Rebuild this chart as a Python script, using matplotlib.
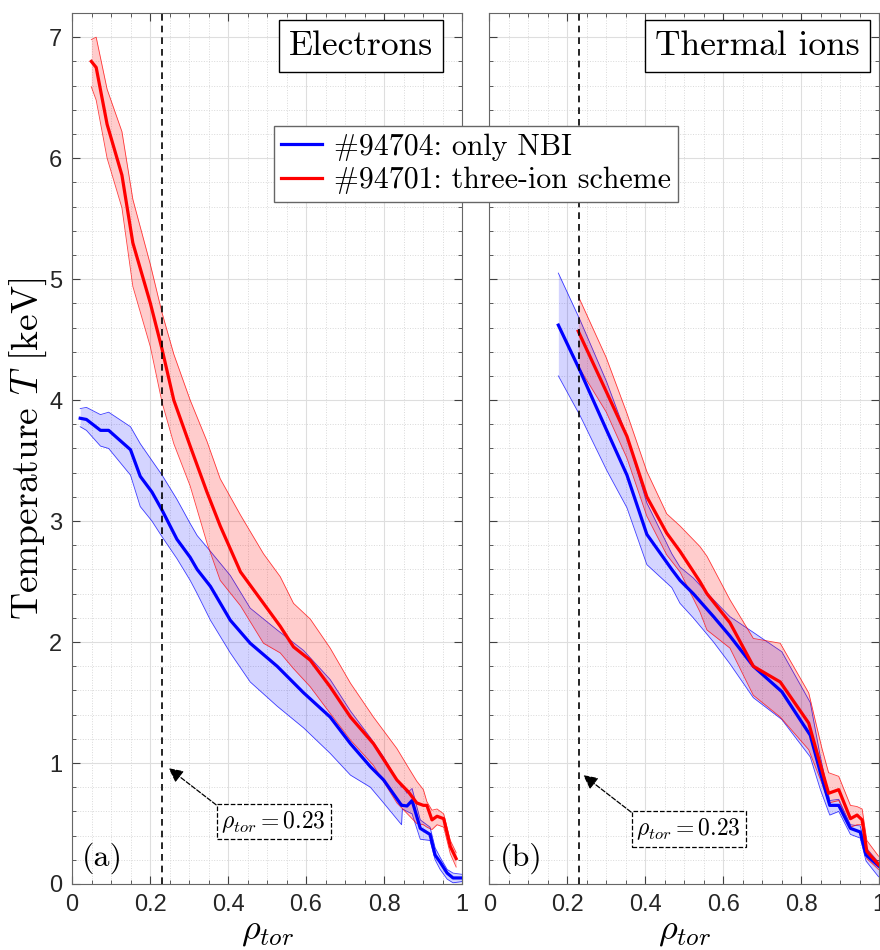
import numpy as np
import matplotlib.pyplot as plt
from matplotlib.ticker import MultipleLocator

plt.rcParams['mathtext.fontset'] = 'cm'
CM = ['cmr10', 'DejaVu Serif']

# electrons, #94704 (only NBI)
te_nbi_x = [0.021, 0.037, 0.073, 0.094, 0.150, 0.175, 0.205, 0.231, 0.269, 0.303, 0.321, 0.355, 0.406,
            0.457, 0.526, 0.594, 0.662, 0.714, 0.765, 0.799, 0.845, 0.847, 0.859, 0.872, 0.893, 0.918,
            0.931, 0.944, 0.962, 0.977, 1.0]
te_nbi = [3.85, 3.84, 3.75, 3.75, 3.59, 3.37, 3.24, 3.09, 2.85, 2.70, 2.60, 2.46, 2.18,
          1.99, 1.80, 1.58, 1.38, 1.16, 0.97, 0.86, 0.65, 0.65, 0.645, 0.69, 0.46, 0.41,
          0.24, 0.18, 0.09, 0.05, 0.05]
te_nbi_hi = [3.93, 3.94, 3.88, 3.90, 3.78, 3.64, 3.50, 3.38, 3.18, 2.98, 2.88, 2.75, 2.55,
             2.28, 2.10, 1.93, 1.69, 1.43, 1.21, 1.05, 0.80, 0.82, 0.75, 0.79, 0.53, 0.47,
             0.30, 0.22, 0.12, 0.09, 0.08]
te_nbi_lo = [3.78, 3.75, 3.62, 3.60, 3.38, 3.12, 3.00, 2.87, 2.69, 2.51, 2.40, 2.18, 1.91,
             1.67, 1.47, 1.29, 1.08, 0.90, 0.80, 0.67, 0.49, 0.62, 0.60, 0.58, 0.37, 0.36,
             0.20, 0.12, 0.04, 0.01, 0.02]

# electrons, #94701 (three-ion scheme)
te_3ion_x = [0.0495, 0.062, 0.09, 0.128, 0.156, 0.201, 0.231, 0.261, 0.303, 0.346, 0.38, 0.432, 0.491,
             0.534, 0.568, 0.611, 0.662, 0.714, 0.773, 0.833, 0.863, 0.884, 0.901, 0.910, 0.923,
             0.936, 0.953, 0.970, 0.985]
te_3ion = [6.80, 6.75, 6.28, 5.86, 5.30, 4.80, 4.42, 4.00, 3.62, 3.24, 2.96, 2.58, 2.32,
           2.13, 1.96, 1.85, 1.63, 1.38, 1.16, 0.86, 0.76, 0.67, 0.65, 0.65, 0.53,
           0.56, 0.54, 0.31, 0.21]
te_3ion_hi = [6.98, 7.00, 6.57, 6.22, 5.66, 5.12, 4.72, 4.38, 4.00, 3.66, 3.35, 3.05, 2.73,
              2.54, 2.32, 2.19, 1.95, 1.66, 1.38, 1.12, 0.96, 0.85, 0.78, 0.68, 0.61,
              0.62, 0.58, 0.36, 0.26]
te_3ion_lo = [6.59, 6.48, 6.00, 5.59, 4.94, 4.44, 3.98, 3.64, 3.29, 2.82, 2.51, 2.30, 1.99,
              1.91, 1.78, 1.63, 1.41, 1.19, 0.98, 0.67, 0.57, 0.50, 0.49, 0.47, 0.45,
              0.49, 0.47, 0.25, 0.14]

# thermal ions, #94704
ti_nbi_x = [0.177, 0.233, 0.301, 0.353, 0.404, 0.468, 0.489, 0.523, 0.575, 0.617, 0.677, 0.75,
            0.823, 0.849, 0.873, 0.896, 0.926, 0.951, 0.966, 0.998]
ti_nbi = [4.62, 4.24, 3.75, 3.38, 2.89, 2.60, 2.51, 2.40, 2.21, 2.05, 1.80, 1.59,
          1.23, 0.92, 0.65, 0.65, 0.46, 0.43, 0.24, 0.15]
ti_nbi_hi = [5.05, 4.66, 4.15, 3.70, 3.15, 2.73, 2.62, 2.53, 2.35, 2.21, 2.08, 1.92,
             1.50, 1.05, 0.69, 0.70, 0.49, 0.48, 0.30, 0.18]
ti_nbi_lo = [4.20, 3.87, 3.42, 3.11, 2.64, 2.45, 2.32, 2.20, 2.00, 1.82, 1.54, 1.36,
             1.05, 0.78, 0.57, 0.60, 0.41, 0.38, 0.19, 0.06]

# thermal ions, #94701
ti_3ion_x = [0.228, 0.30, 0.353, 0.404, 0.455, 0.489, 0.54, 0.558, 0.617, 0.677, 0.746, 0.819,
             0.853, 0.87, 0.896, 0.926, 0.943, 0.956, 0.968, 0.998]
ti_3ion = [4.57, 4.07, 3.70, 3.20, 2.90, 2.75, 2.50, 2.40, 2.16, 1.80, 1.67, 1.33,
           0.94, 0.75, 0.78, 0.54, 0.57, 0.53, 0.27, 0.16]
ti_3ion_hi = [4.86, 4.35, 3.89, 3.41, 3.06, 2.96, 2.79, 2.71, 2.35, 2.03, 1.99, 1.58,
              1.12, 0.92, 0.89, 0.65, 0.64, 0.62, 0.36, 0.23]
ti_3ion_lo = [4.28, 3.90, 3.52, 3.04, 2.72, 2.58, 2.25, 2.10, 1.95, 1.56, 1.38, 1.11,
              0.83, 0.67, 0.69, 0.47, 0.49, 0.49, 0.21, 0.12]

labels = ['#94704: only NBI', '#94701: three-ion scheme']
rho_mark = 0.23

fig = plt.figure(figsize=(8.8, 9.5), dpi=100)
ax1 = fig.add_axes([72 / 880, 66 / 950, 390 / 880, 871 / 950])
ax2 = fig.add_axes([489.3 / 880, 66 / 950, 390 / 880, 871 / 950])


def band(ax, x, m, lo, hi, c, a):
    ax.fill_between(x, lo, hi, color=c, alpha=a, lw=0, zorder=2)
    ax.plot(x, lo, color=c, lw=0.6, alpha=0.75, zorder=2)
    ax.plot(x, hi, color=c, lw=0.6, alpha=0.75, zorder=2)
    return ax.plot(x, m, color=c, lw=2.3, zorder=3)[0]


h1 = band(ax1, te_nbi_x, te_nbi, te_nbi_lo, te_nbi_hi, 'blue', 0.17)
h2 = band(ax1, te_3ion_x, te_3ion, te_3ion_lo, te_3ion_hi, 'red', 0.2)
band(ax2, ti_nbi_x, ti_nbi, ti_nbi_lo, ti_nbi_hi, 'blue', 0.17)
band(ax2, ti_3ion_x, ti_3ion, ti_3ion_lo, ti_3ion_hi, 'red', 0.2)

for ax, title, tx, tag, box, tip in [
        (ax1, 'Electrons', 0.742, '(a)', (0.517, 0.515), (0.248, 0.957)),
        (ax2, 'Thermal ions', 0.688, '(b)', (0.511, 0.455), (0.241, 0.90))]:
    ax.set_xlim(0, 1)
    ax.set_ylim(0, 7.2)
    ax.xaxis.set_major_locator(MultipleLocator(0.2))
    ax.xaxis.set_minor_locator(MultipleLocator(0.05))
    ax.yaxis.set_major_locator(MultipleLocator(1))
    ax.yaxis.set_minor_locator(MultipleLocator(0.2))
    ax.set_xticks([0, 0.2, 0.4, 0.6, 0.8, 1.0], ['0', '0.2', '0.4', '0.6', '0.8', '1'])
    ax.grid(True, which='major', color='0.87', lw=0.8, zorder=0)
    ax.grid(True, which='minor', color='0.85', lw=0.7, ls=':', zorder=0)
    ax.tick_params(which='both', direction='in', top=True, right=True, colors='0.25',
                   labelcolor='0.15', labelsize=17, pad=7)
    ax.tick_params(which='major', length=6, width=0.8)
    ax.tick_params(which='minor', length=3, width=0.6)
    for lab in ax.get_xticklabels() + ax.get_yticklabels():
        lab.set_family('Liberation Sans')
    for s in ax.spines.values():
        s.set_color('0.4')
        s.set_linewidth(0.8)
    ax.set_axisbelow(True)
    ax.axvline(rho_mark, color='k', ls='--', lw=1.2, dashes=(4, 3), zorder=4)
    ax.set_xlabel(r'$\rho_{tor}$', fontsize=26, labelpad=-1)
    ax.text(tx, 0.962, title, transform=ax.transAxes, ha='center', va='center',
            family=CM, fontsize=25.5, zorder=6,
            bbox=dict(boxstyle='square,pad=0.28', fc='white', ec='k', lw=1.0))
    ax.text(0.026, 0.012, tag, transform=ax.transAxes, ha='left', va='bottom',
            family=CM, fontsize=23, zorder=6)
    ax.annotate(r'$\rho_{tor} = 0.23$', xy=tip, xytext=box, ha='center', va='center',
                fontsize=17, zorder=6,
                bbox=dict(boxstyle='square,pad=0.2', fc='white', ec='k', ls='--', lw=0.9),
                arrowprops=dict(arrowstyle='-|>,head_length=0.5,head_width=0.25', color='k',
                                ls='--', lw=0.9, relpos=(0, 1), shrinkA=0, shrinkB=0))

ax2.tick_params(labelleft=False)
ax1.set_ylabel(r'Temperature $T$ [keV]', family=CM, fontsize=27, labelpad=0)

fig.legend([h1, h2], labels, loc='upper left', bbox_to_anchor=(274 / 880, 1 - 126 / 950),
           prop=dict(family=CM, size=21.5), fancybox=False, edgecolor='0.4', framealpha=1,
           handlelength=1.35, borderpad=0.25, labelspacing=0.2, handletextpad=0.4,
           borderaxespad=0)

fig.savefig('out.png', dpi=100)
